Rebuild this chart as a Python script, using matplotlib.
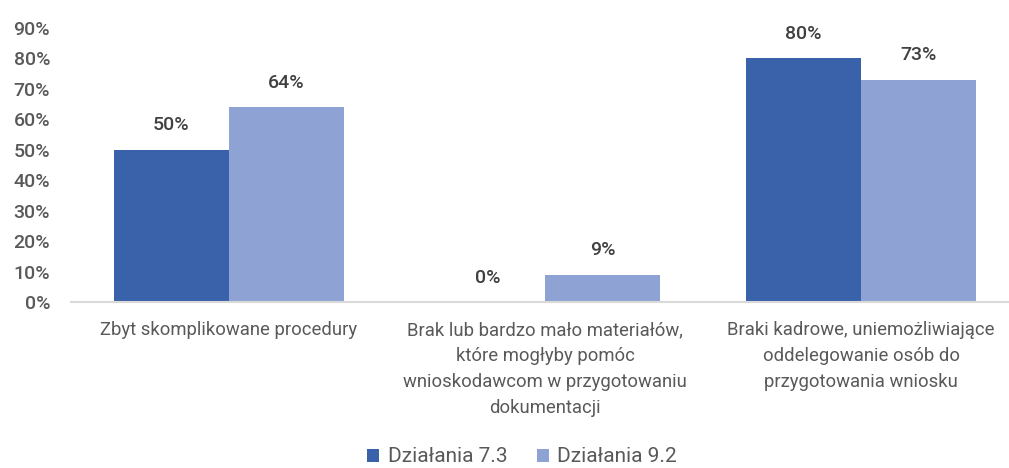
import matplotlib
matplotlib.use("Agg")
import matplotlib.pyplot as plt
import numpy as np
from matplotlib.ticker import FixedLocator

categories = [
    "Zbyt skomplikowane procedury",
    "Brak lub bardzo mało materiałów,\nktóre mogłyby pomóc\nwnioskodawcom w przygotowaniu\ndokumentacji",
    "Braki kadrowe, uniemożliwiające\noddelegowanie osób do\nprzygotowania wniosku",
]
series_names = ["Działania 7.3", "Działania 9.2"]
values_73 = [50, 0, 80]
values_92 = [64, 9, 73]
yticks = [0, 10, 20, 30, 40, 50, 60, 70, 80, 90]
ytick_labels = [f"{v}%" for v in yticks]

colors = ["#3A62AA", "#8EA3D4"]
text_color = "#595959"
label_color = "#404040"

plt.rcParams['font.family'] = ['Roboto', 'DejaVu Sans']

fig = plt.figure(figsize=(10.09, 4.68), dpi=100)
ax = fig.add_axes([71/1009, 166/468, (1008-71)/1009, (302-28)/468])

x = np.arange(len(categories))
w = 0.364
b1 = ax.bar(x - w/2, values_73, w, color=colors[0], label=series_names[0])
b2 = ax.bar(x + w/2, values_92, w, color=colors[1], label=series_names[1])

for bars, vals in ((b1, values_73), (b2, values_92)):
    for rect, v in zip(bars, vals):
        ax.annotate(f"{v}%", (rect.get_x() + rect.get_width()/2, v),
                    xytext=(0, 11), textcoords="offset points",
                    ha="center", va="bottom", fontsize=14, color=label_color,
                    fontweight="medium")

ax.set_ylim(0, 90)
ax.set_xlim(-0.5, 2.465)
ax.yaxis.set_major_locator(FixedLocator(yticks))
ax.set_yticklabels(ytick_labels, fontsize=14, color=text_color, fontweight="medium")
ax.set_xticks(x)
ax.set_xticklabels(categories, fontsize=13.3, color=text_color, linespacing=1.55,
                   va="top")
ax.tick_params(axis="both", length=0)
ax.tick_params(axis="x", pad=14)
ax.tick_params(axis="y", pad=15)
for s in ["top", "right", "left"]:
    ax.spines[s].set_visible(False)
ax.spines["bottom"].set_color("#D9D9D9")
ax.spines["bottom"].set_linewidth(1.5)

leg = fig.legend(handles=[b1, b2], labels=series_names, loc="center",
                 bbox_to_anchor=(522/1009, 1 - 457/468), ncol=2, frameon=False,
                 fontsize=15, handlelength=0.6, handleheight=0.6,
                 handletextpad=0.4, columnspacing=1.4, borderpad=0.1)
for t in leg.get_texts():
    t.set_color(text_color)

fig.savefig("out.png", dpi=100)
